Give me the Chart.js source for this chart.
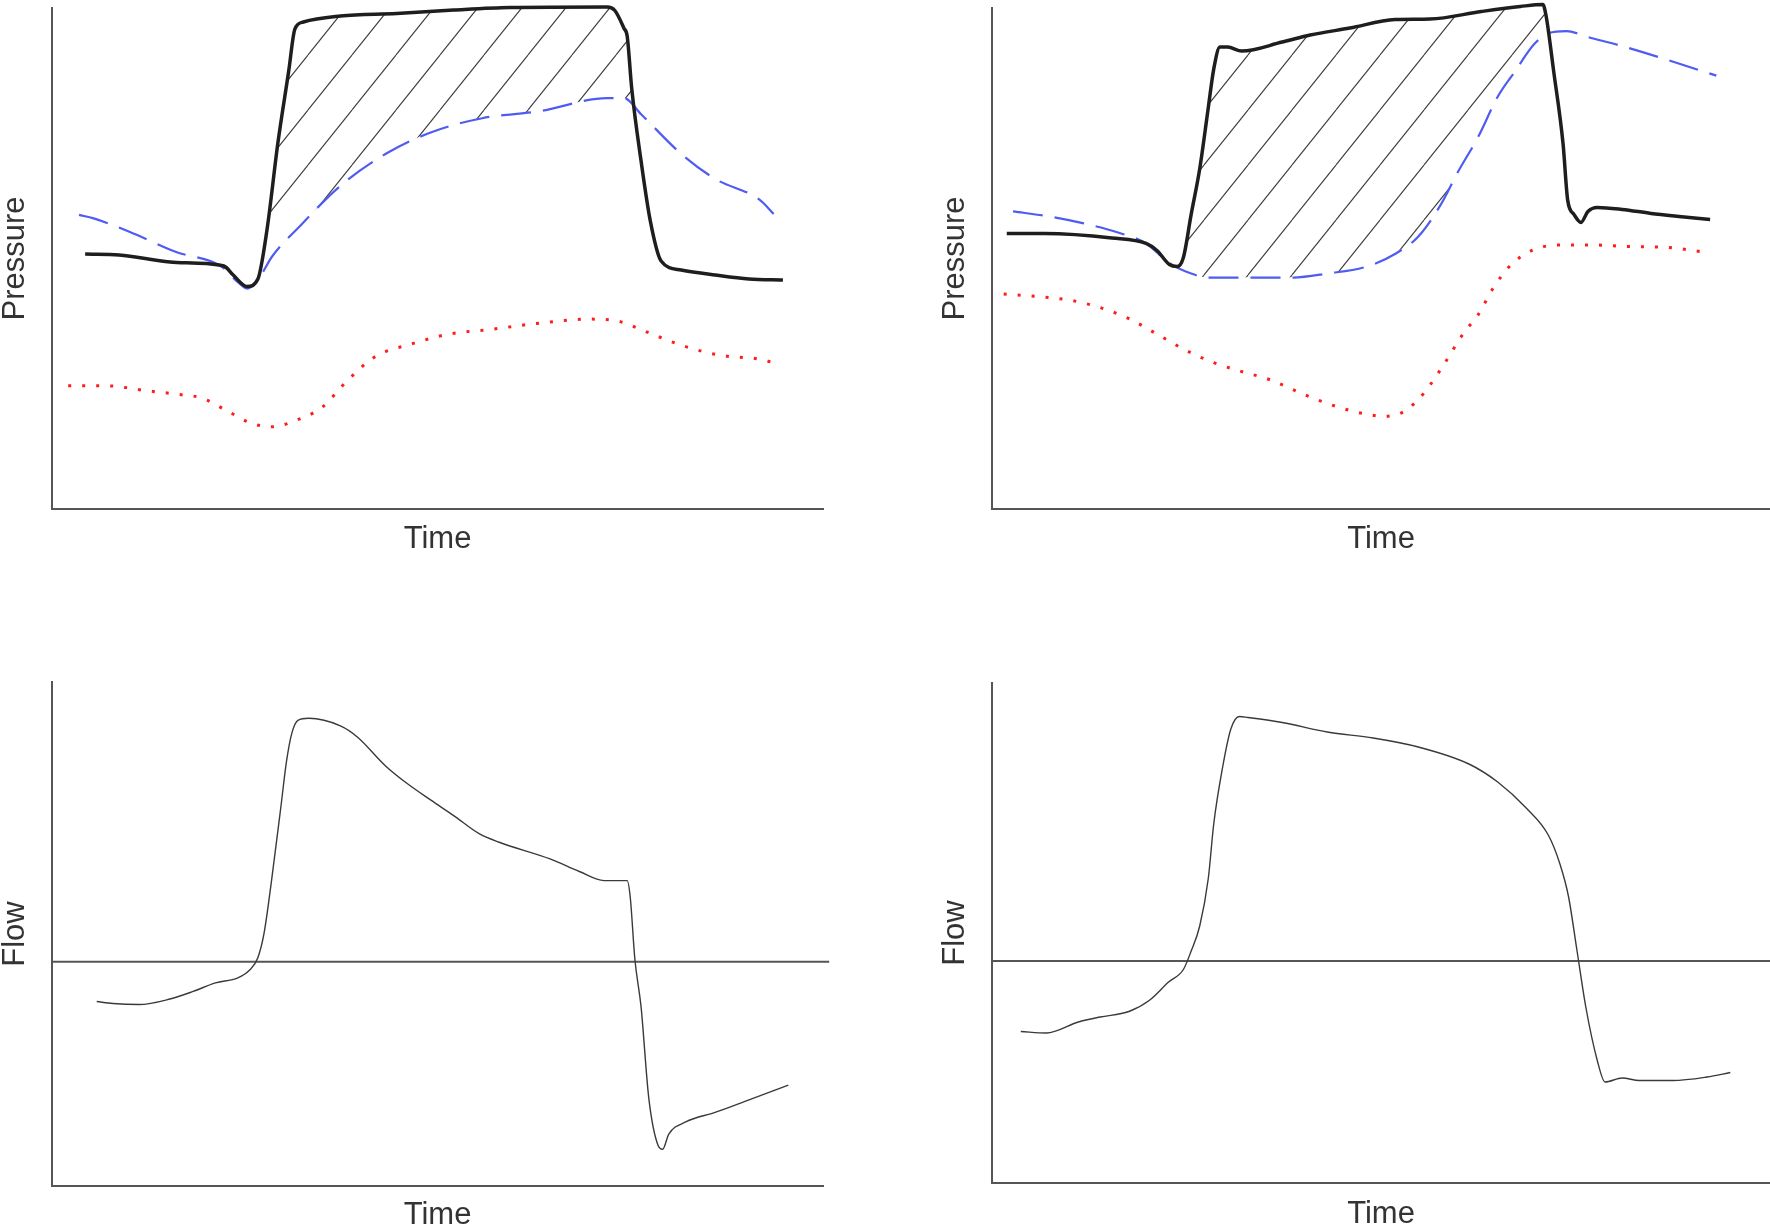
<!DOCTYPE html>
<html>
<head>
<meta charset="utf-8">
<script src="https://cdn.jsdelivr.net/npm/chart.js@4.4.1/dist/chart.umd.min.js"></script>
<style>
html,body{margin:0;padding:0;background:#fff;}
body{width:1770px;height:1231px;position:relative;overflow:hidden;}
canvas{position:absolute;}
</style>
</head>
<body>
<canvas id="c1" width="832" height="555" style="left:0;top:0"></canvas>
<canvas id="c2" width="830" height="555" style="left:940px;top:0"></canvas>
<canvas id="c3" width="832" height="557" style="left:0;top:674px"></canvas>
<canvas id="c4" width="830" height="555" style="left:940px;top:675px"></canvas>
<script>
// values, [time, value] in 0..100 units of each panel
const leftSolid = [[4.3,50.9],[8.7,50.7],[15.3,49.3],[18.2,49.1],[22.3,48.5],[23.5,46.7],[25.3,44.4],[26.7,45.9],[27.9,55.9],[29.3,73.1],[30.7,87.4],[31.5,95.8],[32.6,97.2],[37.4,98.4],[44.7,98.9],[52.1,99.6],[59.4,100.1],[72.0,100.2],[73.0,99.5],[74.2,95.9],[74.6,94.4],[75.2,83.8],[76.4,69.5],[77.6,57.5],[79.0,49.5],[81.6,47.7],[86.0,46.7],[90.4,45.9],[94.8,45.7]];
const leftDashed = [[3.5,58.7],[5.4,58.0],[10.1,55.3],[16.1,51.3],[21.9,48.5],[24.1,45.3],[25.3,44.0],[27.1,46.7],[28.5,50.3],[32.3,56.7],[37.4,64.5],[43.3,70.9],[49.2,75.2],[55.8,78.0],[63.2,79.4],[72.0,82.0],[74.2,82.0],[76.4,78.8],[81.6,70.9],[86.0,65.9],[91.8,61.7],[93.6,58.9]];
const leftDotted = [[2.1,24.6],[6.9,24.6],[12.3,23.6],[16.8,22.8],[19.3,22.2],[22.7,19.6],[25.7,17.2],[28.5,16.4],[31.5,17.6],[35.1,20.4],[38.1,25.3],[41.8,30.3],[47.0,33.1],[51.4,34.9],[57.2,35.9],[63.2,37.1],[69.8,37.9],[73.4,37.5],[77.2,35.3],[81.6,32.7],[86.6,30.7],[91.8,29.9],[93.6,29.2]];

const rightSolid = [[1.9,55.0],[6.7,55.0],[15.4,54.1],[19.8,53.0],[21.2,51.6],[22.8,48.8],[23.8,48.4],[24.6,50.2],[25.6,58.8],[26.7,67.9],[27.8,80.1],[28.5,87.8],[29.3,92.2],[30.3,92.2],[32.1,91.4],[37.3,93.2],[40.9,94.6],[46.0,96.0],[51.8,97.7],[56.3,97.8],[62.9,99.3],[67.9,100.3],[70.8,100.7],[71.2,98.6],[72.2,87.3],[73.4,72.9],[74.0,61.6],[74.8,58.8],[75.7,57.2],[76.6,59.4],[77.8,60.2],[81.0,59.8],[84.7,59.0],[88.3,58.4],[92.3,57.8]];
const rightDashed = [[2.7,59.4],[7.3,58.4],[11.8,57.0],[16.2,55.2],[19.8,53.0],[22.8,49.1],[25.6,47.0],[27.8,46.2],[33.7,46.2],[38.7,46.2],[43.1,47.0],[48.2,48.4],[51.8,50.9],[54.8,54.4],[57.7,60.8],[59.9,67.3],[62.5,74.3],[65.0,82.3],[67.2,87.3],[69.7,92.8],[71.6,95.0],[73.8,95.4],[76.6,94.2],[81.0,92.4],[86.9,89.6],[93.1,86.5]];
const rightDotted = [[1.5,42.9],[5.9,42.4],[10.3,41.6],[13.9,40.2],[17.6,38.0],[21.2,34.9],[24.9,31.7],[28.5,29.2],[31.5,27.7],[35.9,25.7],[40.2,22.8],[44.6,20.3],[48.2,18.9],[50.4,18.5],[53.0,19.5],[55.5,23.1],[58.1,28.9],[60.7,35.3],[62.5,38.8],[64.3,43.8],[66.5,48.4],[69.4,51.6],[73.0,52.7],[77.4,52.7],[81.7,52.4],[86.9,52.2],[92.0,51.2]];

const leftFlow = [[5.8,-7.9],[7.9,-8.3],[11.3,-8.5],[15.3,-7.4],[18.3,-5.9],[21.2,-4.2],[24.1,-3.2],[25.6,-1.7],[26.7,0.8],[27.5,5.6],[28.5,16.4],[29.7,30.9],[30.4,39.6],[31.1,45.3],[31.9,47.9],[33.3,48.3],[37.4,46.8],[39.6,44.6],[43.3,38.8],[46.2,35.2],[49.2,32.0],[52.1,29.0],[55.4,25.4],[58.0,23.7],[64.6,20.4],[68.4,17.9],[71.6,16.1],[74.6,16.1],[75.0,12.8],[75.6,0.5],[76.4,-8.9],[77.4,-27.0],[78.6,-36.4],[79.2,-37.2],[80.0,-34.2],[82.2,-31.8],[86.0,-29.9],[90.4,-27.4],[95.5,-24.5]];
const rightFlow = [[3.7,-14.1],[7.0,-14.4],[11.1,-12.2],[13.9,-11.2],[17.6,-10.1],[20.2,-7.9],[22.7,-4.2],[24.6,-1.7],[25.6,2.0],[26.7,7.0],[27.8,16.5],[28.5,27.4],[29.6,38.4],[30.7,46.4],[31.8,48.9],[32.9,48.7],[37.3,47.7],[43.1,45.8],[49.0,44.6],[54.8,42.8],[61.3,39.4],[65.0,35.8],[68.6,30.7],[71.5,25.2],[73.0,19.4],[74.1,12.9],[75.2,2.0],[76.3,-9.0],[77.8,-19.9],[78.8,-24.2],[81.0,-23.4],[83.2,-23.9],[87.5,-23.9],[91.9,-23.2],[94.9,-22.3]];

const zeroLeft = [[0,0],[100.8,0]];
const zeroRight = [[0,0],[100,0]];

const FONT = "'Liberation Sans', Arial, sans-serif";
const TEXT = '#333';
const AXIS = '#555';

function pts(a){return a.map(p=>({x:p[0],y:p[1]}))}

// diagonal hatch for the area between solid and dashed traces
function hatch(){
  const w = 44, h = 55;
  const c = document.createElement('canvas');
  c.width = w; c.height = h;
  const g = c.getContext('2d');
  g.strokeStyle = '#3c3c3c';
  g.lineWidth = 1.1;
  for(const off of [-w,0,w]){
    g.beginPath();
    g.moveTo(off, h);
    g.lineTo(off+w, 0);
    g.stroke();
  }
  return g.createPattern(c, 'repeat');
}

const line = (data, color, width, extra) => Object.assign({
  data: pts(data),
  borderColor: color,
  borderWidth: width,
  pointRadius: 0,
  fill: false,
  clip: false,
  cubicInterpolationMode: 'monotone'
}, extra || {});

function makeChart(id, yTitle, yMin, yMax, datasets, padRight, titleGap){
  return new Chart(document.getElementById(id), {
    type: 'line',
    data: {datasets},
    options: {
      responsive: false,
      devicePixelRatio: 1,
      animation: false,
      layout: {padding: {top: 8, left: 0, right: padRight, bottom: 0}},
      plugins: {legend: {display: false}, tooltip: {enabled: false}, filler: {drawTime: 'beforeDatasetsDraw'}},
      scales: {
        x: {
          type: 'linear', min: 0, max: 100,
          grid: {display: false, drawTicks: false},
          ticks: {display: false},
          border: {display: true, color: AXIS, width: 2},
          title: {display: true, text: 'Time', color: TEXT, font: {family: FONT, size: 31, lineHeight: 1}, padding: {top: titleGap, bottom: 0}}
        },
        y: {
          type: 'linear', min: yMin, max: yMax,
          grid: {display: false, drawTicks: false},
          ticks: {display: false},
          border: {display: true, color: AXIS, width: 2},
          title: {display: true, text: yTitle, color: TEXT, font: {family: FONT, size: 31, lineHeight: 1}, padding: {top: 0, bottom: 21}}
        }
      }
    }
  });
}

const pat = hatch();
const SOLID = '#1e1e1e', BLUE = '#4f5cf2', RED = '#ff1c1c', FLOW = '#3a3a3a';

makeChart('c1', 'Pressure', 0, 100, [
  line(leftSolid, SOLID, 3.5, {fill: {target: 1, above: pat, below: 'rgba(0,0,0,0)'}}),
  line(leftDashed, BLUE, 2.2, {borderDash: [30, 12]}),
  line(leftDotted, RED, 3, {borderDash: [3, 11]})
], 9, 15);

makeChart('c2', 'Pressure', 0, 100, [
  line(rightSolid, SOLID, 3.5, {fill: {target: 1, above: pat, below: 'rgba(0,0,0,0)'}}),
  line(rightDashed, BLUE, 2.2, {borderDash: [30, 12]}),
  line(rightDotted, RED, 3, {borderDash: [3, 11]})
], 0, 15);

makeChart('c3', 'Flow', -44.5, 55.5, [
  line(leftFlow, FLOW, 1.4),
  line(zeroLeft, AXIS, 2, {cubicInterpolationMode: 'default', tension: 0})
], 9, 14);

makeChart('c4', 'Flow', -44.4, 55.6, [
  line(rightFlow, FLOW, 1.4),
  line(zeroRight, AXIS, 2, {cubicInterpolationMode: 'default', tension: 0})
], 0, 16);
</script>
</body>
</html>
